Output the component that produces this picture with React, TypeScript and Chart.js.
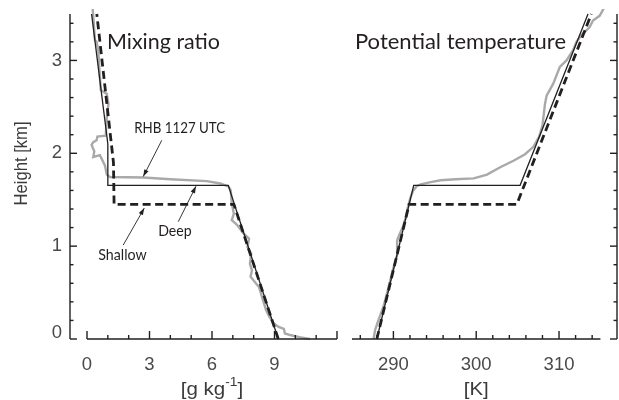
import React, { useEffect, useRef } from "react";
import { Chart, registerables } from "chart.js";

Chart.register(...registerables);

// ---------------- Data ----------------
// Height axis (km)
const heightTicks = [0, 1, 2, 3];
const heightMinorTicks = [0.2, 0.4, 0.6, 0.8, 1.2, 1.4, 1.6, 1.8, 2.2, 2.4, 2.6, 2.8, 3.2, 3.4];

// Mixing ratio axis (g/kg)
const mixTickLabels = [0, 3, 6, 9];
const mixMajorTicks = [0, 3, 6, 9, 12];
const mixMinorTicks = [1, 2, 4, 5, 7, 8, 10, 11];

// Potential temperature axis (K)
const thetaTickLabels = [290, 300, 310];
const thetaMinorTicks = [286, 288, 292, 294, 296, 298, 302, 304, 306, 308, 312, 314];

// Observed sounding: RHB 1127 UTC (mixing ratio)
const mixObsValues = [10.7, 10.2, 9.8, 9.5, 9.45, 9.2, 8.95, 8.75, 8.6, 8.5, 8.35, 8.25, 8.0, 7.85, 7.92, 7.82, 7.88, 7.7, 7.78, 7.5, 7.2, 6.95, 7.05, 6.95, 6.9, 6.8, 6.4, 5.75, 4.0, 2.7, 1.1, 0.95, 0.86, 0.62, 0.3, 0.35, 0.22, 0.3, 0.46, 0.5, 0.9, 0.95, 1.03, 0.95, 0.66, 0.6, 0.54, 0.46, 0.38, 0.3, 0.27];
const mixObsHeights = [0.0, 0.02, 0.04, 0.06, 0.11, 0.13, 0.17, 0.24, 0.31, 0.38, 0.49, 0.56, 0.63, 0.67, 0.74, 0.81, 0.92, 0.99, 1.08, 1.14, 1.23, 1.28, 1.35, 1.46, 1.6, 1.64, 1.675, 1.7, 1.72, 1.74, 1.745, 1.77, 1.87, 1.98, 1.96, 2.02, 2.09, 2.12, 2.14, 2.18, 2.19, 2.39, 2.53, 2.64, 2.68, 2.89, 3.11, 3.2, 3.22, 3.48, 3.56];

// Deep mixed layer model (mixing ratio)
const mixDeepValues = [9.18, 6.78, 1.0, 1.0, 0.22];
const mixDeepHeights = [0, 1.655, 1.655, 2.1, 3.5];

// Shallow mixed layer model (mixing ratio)
const mixShallowValues = [9.18, 7.05, 1.3, 1.27, 0.47];
const mixShallowHeights = [0, 1.45, 1.45, 1.9, 3.5];

// Observed sounding (potential temperature)
const thetaObsValues = [287.6, 287.8, 288.1, 288.8, 289.4, 289.95, 290.5, 290.45, 290.7, 291.2, 291.55, 291.75, 292.05, 292.4, 292.8, 293.3, 294.5, 295.7, 297.5, 299.7, 301.3, 302.9, 304.5, 305.9, 306.9, 307.6, 308.0, 308.3, 308.5, 309.3, 310.1, 310.9, 311.7, 312.1, 312.7, 313.7, 314.1, 314.9, 315.4];
const thetaObsHeights = [0.0, 0.1, 0.18, 0.35, 0.55, 0.75, 0.92, 1.06, 1.12, 1.22, 1.33, 1.42, 1.52, 1.6, 1.645, 1.665, 1.69, 1.71, 1.72, 1.73, 1.77, 1.85, 1.92, 1.99, 2.07, 2.18, 2.3, 2.53, 2.62, 2.75, 2.93, 3.0, 3.11, 3.2, 3.27, 3.36, 3.43, 3.48, 3.56];

// Deep model (potential temperature)
const thetaDeepValues = [288.0, 292.45, 305.3, 313.5];
const thetaDeepHeights = [0, 1.655, 1.655, 3.5];

// Shallow model (potential temperature)
const thetaShallowValues = [288.0, 291.9, 304.9, 313.9];
const thetaShallowHeights = [0, 1.45, 1.45, 3.5];

// Annotation labels
const annoTexts = ["RHB 1127 UTC", "Deep", "Shallow"];

// ---------------- Styling ----------------
const AXIS_COLOR = "#231f20";
const TICK_LABEL_COLOR = "#4a4a4a";
const TITLE_COLOR = "#231f20";
const OBS_COLOR = "#a9a9a9";
const SANS = "'Liberation Sans', Arial, sans-serif";
const HUMANIST = "Lato, 'Open Sans', sans-serif";

function pts(xs: number[], ys: number[]) {
  return xs.map((v, i) => ({ x: v, y: ys[i] }));
}

function makeDatasets(obsX: number[], obsY: number[], deepX: number[], deepY: number[], shX: number[], shY: number[]) {
  return [
    {
      label: "Deep",
      data: pts(deepX, deepY),
      showLine: true,
      borderColor: AXIS_COLOR,
      borderWidth: 1.3,
      pointRadius: 0,
      fill: false,
      tension: 0,
      clip: 3,
    },
    {
      label: "Shallow",
      data: pts(shX, shY),
      showLine: true,
      borderColor: AXIS_COLOR,
      borderWidth: 2.8,
      borderDash: [8, 4.5],
      pointRadius: 0,
      fill: false,
      tension: 0,
      clip: 3,
    },
    {
      label: "RHB 1127 UTC",
      data: pts(obsX, obsY),
      showLine: true,
      borderColor: OBS_COLOR,
      borderWidth: 2.4,
      pointRadius: 0,
      fill: false,
      tension: 0,
      clip: 5,
    },
  ];
}

function drawText(
  ctx: CanvasRenderingContext2D,
  text: string,
  x: number,
  y: number,
  size: number,
  family: string,
  color: string,
  align: CanvasTextAlign,
  targetWidth?: number,
  baseline: CanvasTextBaseline = "alphabetic"
) {
  ctx.save();
  ctx.font = `${size}px ${family}`;
  const w = ctx.measureText(text).width;
  const sx = targetWidth ? targetWidth / w : 1;
  ctx.translate(x, y);
  ctx.scale(sx, 1);
  ctx.textAlign = align;
  ctx.textBaseline = baseline;
  ctx.fillStyle = color;
  ctx.fillText(text, 0, 0);
  ctx.restore();
}

function line(ctx: CanvasRenderingContext2D, x1: number, y1: number, x2: number, y2: number) {
  ctx.beginPath();
  ctx.moveTo(x1, y1);
  ctx.lineTo(x2, y2);
  ctx.stroke();
}

function arrow(ctx: CanvasRenderingContext2D, x1: number, y1: number, x2: number, y2: number) {
  ctx.save();
  ctx.strokeStyle = AXIS_COLOR;
  ctx.fillStyle = AXIS_COLOR;
  ctx.lineWidth = 0.9;
  line(ctx, x1, y1, x2, y2);
  const ang = Math.atan2(y2 - y1, x2 - x1);
  const L = 7, W = 2.4;
  ctx.beginPath();
  ctx.moveTo(x2, y2);
  ctx.lineTo(x2 - L * Math.cos(ang) + W * Math.sin(ang), y2 - L * Math.sin(ang) - W * Math.cos(ang));
  ctx.lineTo(x2 - L * Math.cos(ang) - W * Math.sin(ang), y2 - L * Math.sin(ang) + W * Math.cos(ang));
  ctx.closePath();
  ctx.fill();
  ctx.restore();
}

function drawHeightTicks(chart: any, side: "left" | "right", withLabels: boolean) {
  const ctx: CanvasRenderingContext2D = chart.ctx;
  const { left, right, top, bottom } = chart.chartArea;
  const y = chart.scales.y;
  const ax = side === "left" ? left : right;
  const dir = side === "left" ? 1 : -1;
  ctx.save();
  ctx.strokeStyle = AXIS_COLOR;
  ctx.lineWidth = 1.4;
  line(ctx, ax, top, ax, bottom);
  heightTicks.forEach((v) => {
    const py = y.getPixelForValue(v);
    line(ctx, ax, py, ax + dir * 7, py);
  });
  heightMinorTicks.forEach((v) => {
    const py = y.getPixelForValue(v);
    line(ctx, ax, py, ax + dir * 3.5, py);
  });
  ctx.restore();
  if (withLabels) {
    heightTicks.forEach((v) => {
      const py = Math.min(y.getPixelForValue(v), bottom - 6.5);
      drawText(ctx, String(v), ax - 8, py, 18.5, SANS, TICK_LABEL_COLOR, "right", undefined, "middle");
    });
  }
}

function drawXAxis(chart: any, start: number, end: number, major: number[], minor: number[], labels: number[]) {
  const ctx: CanvasRenderingContext2D = chart.ctx;
  const { bottom } = chart.chartArea;
  const x = chart.scales.x;
  ctx.save();
  ctx.strokeStyle = AXIS_COLOR;
  ctx.lineWidth = 1.4;
  line(ctx, x.getPixelForValue(start), bottom, x.getPixelForValue(end), bottom);
  major.forEach((v) => {
    const px = x.getPixelForValue(v);
    line(ctx, px, bottom, px, bottom - 8);
  });
  minor.forEach((v) => {
    const px = x.getPixelForValue(v);
    line(ctx, px, bottom, px, bottom - 4);
  });
  ctx.restore();
  labels.forEach((v) => {
    drawText(ctx, String(v), x.getPixelForValue(v), bottom + 31, 18.5, SANS, TICK_LABEL_COLOR, "center");
  });
}

const leftPlugin = {
  id: "leftAxes",
  afterDraw(chart: any) {
    const ctx: CanvasRenderingContext2D = chart.ctx;
    const x = chart.scales.x;
    const y = chart.scales.y;
    drawHeightTicks(chart, "left", true);
    drawXAxis(chart, 0, 12, mixMajorTicks, mixMinorTicks, mixTickLabels);

    // panel title
    drawText(ctx, "Mixing ratio", 107, 48.5, 21, HUMANIST, TITLE_COLOR, "left", 113);

    // y-axis title
    ctx.save();
    ctx.translate(26.7, 163.5);
    ctx.rotate(-Math.PI / 2);
    drawText(ctx, "Height [km]", 0, 0, 18.5, SANS, "#3a3a3a", "center", 84);
    ctx.restore();

    // x-axis title [g kg^-1]
    ctx.save();
    const big = `18.5px ${SANS}`;
    const small = `12.5px ${SANS}`;
    ctx.font = big;
    const w1 = ctx.measureText("[g kg").width;
    const w3 = ctx.measureText("]").width;
    ctx.font = small;
    const w2 = ctx.measureText("-1").width;
    const total = w1 + w2 + w3;
    const target = 62.5;
    const sx = target / total;
    const cx = x.getPixelForValue(6);
    ctx.translate(cx - target / 2, 395);
    ctx.scale(sx, 1);
    ctx.fillStyle = "#3a3a3a";
    ctx.textAlign = "left";
    ctx.textBaseline = "alphabetic";
    ctx.font = big;
    ctx.fillText("[g kg", 0, 0);
    ctx.font = small;
    ctx.fillText("-1", w1, -9);
    ctx.font = big;
    ctx.fillText("]", w1 + w2, 0);
    ctx.restore();

    // annotations (positions in data units)
    // RHB 1127 UTC
    drawText(ctx, annoTexts[0], x.getPixelForValue(4.45), y.getPixelForValue(2.215), 15, HUMANIST, TITLE_COLOR, "center", 91);
    arrow(ctx, x.getPixelForValue(3.59), y.getPixelForValue(2.14), x.getPixelForValue(2.7), y.getPixelForValue(1.75));
    // Deep
    drawText(ctx, annoTexts[1], x.getPixelForValue(4.22), y.getPixelForValue(1.112), 15, HUMANIST, TITLE_COLOR, "center", 33.5);
    arrow(ctx, x.getPixelForValue(4.38), y.getPixelForValue(1.263), x.getPixelForValue(5.23), y.getPixelForValue(1.645));
    // Shallow
    drawText(ctx, annoTexts[2], x.getPixelForValue(1.7), y.getPixelForValue(0.851), 15, HUMANIST, TITLE_COLOR, "center", 48.5);
    arrow(ctx, x.getPixelForValue(1.74), y.getPixelForValue(1.012), x.getPixelForValue(2.75), y.getPixelForValue(1.41));
  },
};

const rightPlugin = {
  id: "rightAxes",
  afterDraw(chart: any) {
    const ctx: CanvasRenderingContext2D = chart.ctx;
    const x = chart.scales.x;
    drawHeightTicks(chart, "right", false);
    drawXAxis(chart, 285, 315, thetaTickLabels, thetaMinorTicks, thetaTickLabels);
    drawText(ctx, "Potential temperature", 15, 48.5, 21, HUMANIST, TITLE_COLOR, "left", 211);
    drawText(ctx, "[K]", x.getPixelForValue(300), 395, 18.5, SANS, "#3a3a3a", "center", 25);
  },
};

function baseOptions(xmin: number, xmax: number, padding: any) {
  return {
    animation: false as const,
    responsive: false,
    devicePixelRatio: 1,
    layout: { padding },
    scales: {
      x: { type: "linear" as const, min: xmin, max: xmax, display: false },
      y: { type: "linear" as const, min: 0, max: 3.5, display: false },
    },
    plugins: {
      legend: { display: false },
      tooltip: { enabled: false },
      title: { display: false },
    },
    elements: { point: { radius: 0 } },
  };
}

export default function App() {
  const leftRef = useRef<HTMLCanvasElement>(null);
  const rightRef = useRef<HTMLCanvasElement>(null);

  useEffect(() => {
    const left = new Chart(leftRef.current as HTMLCanvasElement, {
      type: "scatter",
      data: {
        datasets: makeDatasets(mixObsValues, mixObsHeights, mixDeepValues, mixDeepHeights, mixShallowValues, mixShallowHeights) as any,
      },
      options: baseOptions(-0.816, 12, { left: 70, right: 3, top: 14, bottom: 61 }) as any,
      plugins: [leftPlugin],
    });
    const right = new Chart(rightRef.current as HTMLCanvasElement, {
      type: "scatter",
      data: {
        datasets: makeDatasets(thetaObsValues, thetaObsHeights, thetaDeepValues, thetaDeepHeights, thetaShallowValues, thetaShallowHeights) as any,
      },
      options: baseOptions(285, 317, { left: 12, right: 2, top: 14, bottom: 61 }) as any,
      plugins: [rightPlugin],
    });
    return () => {
      left.destroy();
      right.destroy();
    };
  }, []);

  return (
    <div style={{ position: "absolute", left: 0, top: 0, width: 619, height: 400, background: "#fff", overflow: "hidden" }}>
      <canvas ref={leftRef} width={340} height={400} style={{ position: "absolute", left: 0, top: 0, width: 340, height: 400 }} />
      <canvas ref={rightRef} width={279} height={400} style={{ position: "absolute", left: 340, top: 0, width: 279, height: 400 }} />
    </div>
  );
}
